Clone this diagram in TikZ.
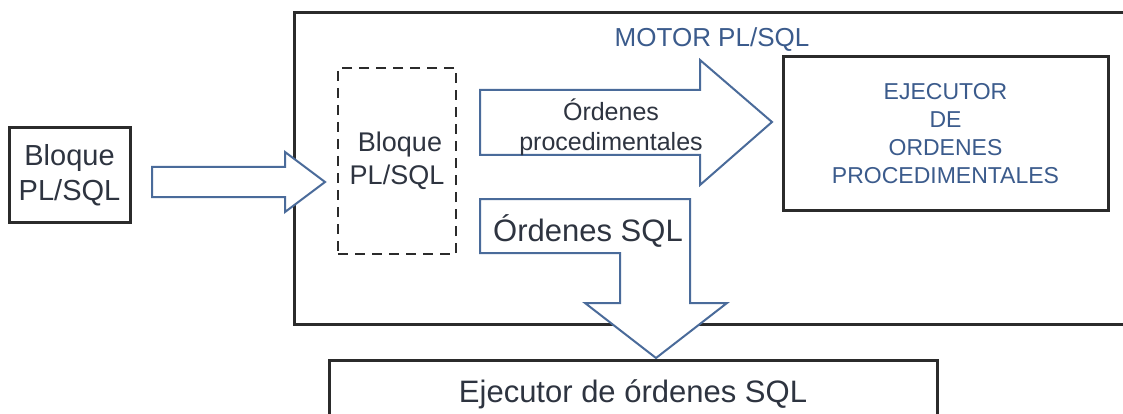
\documentclass[tikz,border=0pt]{standalone}
\usepackage{fontspec}
\setmainfont{Liberation Sans}

\definecolor{linea}{HTML}{2B2B2B}
\definecolor{azul}{HTML}{4A6B9A}
\definecolor{textoazul}{HTML}{3B5B8C}
\definecolor{texto}{HTML}{2E3440}

\begin{document}
\begin{tikzpicture}[x=1pt,y=-1pt,
    caja/.style={draw=linea, line width=3pt, fill=white, inner sep=0pt, align=center, text=texto},
    flecha/.style={draw=azul, line width=2pt, fill=white, line join=miter}]

        \useasboundingbox (0,0) rectangle (1123,414);
        \clip (0,0) rectangle (1123,414);

        \node[caja, minimum width=846pt, minimum height=311pt] (motor) at (717,168.5) {};
        \node[text=textoazul, font=\fontsize{26}{30}\selectfont] (motortxt) at (712,40) {MOTOR PL/SQL};

        \coordinate (A) at (152,182);
        \coordinate (B) at (325,182);
        \coordinate (C) at (480,122);
        \coordinate (D) at (772,122);
        \coordinate (E) at (480,226);
        \coordinate (F) at (656,358);

        \draw[flecha] (A) ++(0,-15) -- (285,167) -- (285,152) -- (B) -- (285,212) -- (285,197) -- ++(-133,0) -- cycle;
        \draw[flecha] (C) ++(0,-32) -- (700,90) -- (700,60) -- (D) -- (700,185) -- (700,155) -- ++(-220,0) -- cycle;
        \draw[flecha] (E) ++(0,-27) -- (690,199) -- (690,303) -- (727,303) -- (F)
        -- (585,303) -- (620,303) -- (620,253) -- ++(-140,0) -- cycle;

        \node[caja, minimum width=121pt, minimum height=94pt, font=\fontsize{29}{35}\selectfont] (bloque) at (69.5,175) {Bloque\\PL/SQL};
        \node[caja, fill=none, line width=2.5pt, dash pattern=on 10pt off 7pt, minimum width=118pt, minimum height=186pt,
        font=\fontsize{27}{33}\selectfont] (bloqueint) at (397,161) {\hspace{6pt}Bloque\\PL/SQL};
        \node[caja, minimum width=325pt, minimum height=153pt, text=textoazul, font=\fontsize{23}{28}\selectfont] (ejproc) at (945.5,133.5) {EJECUTOR\\DE\\ORDENES\\PROCEDIMENTALES};
        \node[caja, minimum width=608pt, minimum height=68pt, font=\fontsize{31}{36}\selectfont] (ejsql) at (633,394) {Ejecutor de órdenes SQL};

        \node[text=texto, align=center, font=\fontsize{25}{30}\selectfont] (ordproc) at (611,127) {Órdenes\\procedimentales};
        \node[text=texto, font=\fontsize{31}{36}\selectfont] (ordsql) at (588,231) {Órdenes SQL};
    \end{tikzpicture}
\end{document}
